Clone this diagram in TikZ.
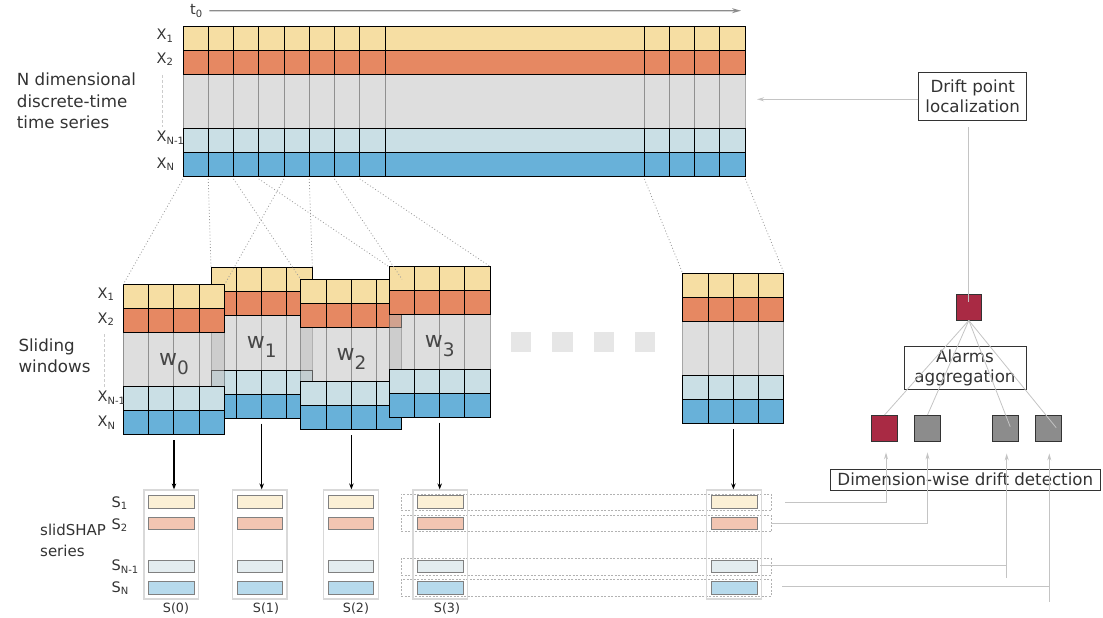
\documentclass[tikz,border=0pt]{standalone}
\usepackage{fontspec}
\setmainfont{DejaVu Sans}
\usetikzlibrary{arrows.meta,calc}

% palette
\definecolor{rowA}{HTML}{F6DEA3}
\definecolor{rowB}{HTML}{E68862}
\definecolor{rowC}{HTML}{CADFE5}
\definecolor{rowD}{HTML}{68B1D9}
\definecolor{midgray}{HTML}{DEDEDE}
\definecolor{winmid}{HTML}{BDBDBD}
\definecolor{shapA}{HTML}{FBF0D6}
\definecolor{shapB}{HTML}{F2C5B2}
\definecolor{shapC}{HTML}{E3ECEF}
\definecolor{shapD}{HTML}{B7DAEC}
\definecolor{alarmred}{HTML}{A92A44}
\definecolor{alarmgray}{HTML}{8C8C8C}
\definecolor{txt}{HTML}{333333}
\definecolor{linkgray}{HTML}{C4C4C4}
\definecolor{dotgray}{HTML}{9A9A9A}
\definecolor{ellgray}{HTML}{E6E6E6}

\tikzset{
  cellline/.style={draw=black, line width=0.9pt},
  midline/.style={draw=black, draw opacity=0.35, line width=0.9pt},
  proj/.style={draw=dotgray, line width=0.8pt, dash pattern=on 0.9pt off 2.2pt},
  winbox/.style={inner sep=0pt, minimum width=101pt, minimum height=150.5pt, draw=none},
  lab/.style={text=txt, inner sep=0pt, font=\fontsize{14.5}{14.5}\selectfont},
  bodytext/.style={text=txt, inner sep=0pt, align=left, anchor=west, font=\fontsize{16.7}{21.3}\selectfont},
  boxtext/.style={text=txt, draw=txt, line width=0.9pt, align=center, font=\fontsize{16.7}{20}\selectfont, inner sep=0pt},
  wlab/.style={text=txt!90, inner sep=0pt, anchor=base},
  down/.style={-{Stealth[length=6pt,width=4.5pt]}, line width=1.1pt, black},
  shapframe/.style={draw=black!15, line width=1.2pt, inner sep=0pt, minimum width=54.7pt, minimum height=109pt},
  shapbar/.style={draw=black!50, line width=0.8pt, inner sep=0pt, minimum width=45.6pt, minimum height=12.4pt},
  rowframe/.style={draw=black!30, dash pattern=on 2pt off 1.5pt, line width=0.7pt, inner sep=0pt, minimum width=370pt, minimum height=16.7pt},
  link/.style={draw=linkgray, line width=1pt},
  linkarrow/.style={link, -{Stealth[length=7pt,width=4pt]}},
  alarmsq/.style={draw=black!80, line width=0.8pt, minimum size=25.6pt, inner sep=0pt},
  ellsq/.style={fill=ellgray, minimum size=20.3pt, inner sep=0pt, anchor=north west},
}

% letter with a lowered index
\newcommand\subl[2]{#1\raisebox{-2.5pt}{\fontsize{10}{10}\selectfont #2}}
% window caption: a large w with a lowered index
\newcommand\wcap[1]{\fontsize{22}{22}\selectfont w\raisebox{-9pt}{\fontsize{18.5}{18.5}\selectfont #1}}

% one sliding window of four time steps, drawn at top-left corner (#2,#3)
\newcommand\slidwin[3]{%
  \begin{scope}[shift={(#2,#3)}]
    \fill[winmid, fill opacity=0.5] (0,48) rectangle (101,102.5);
    \foreach \k in {1,2,3} \draw[midline] (\k*25.25,48) -- (\k*25.25,102.5);
    \draw[midline] (0,48) rectangle (101,102.5);
    \foreach \yy/\rc in {0/rowA,24/rowB,102.5/rowC,126.5/rowD}{
      \fill[\rc] (0,\yy) rectangle (101,\yy+24);
      \foreach \k in {1,2,3} \draw[cellline] (\k*25.25,\yy) -- (\k*25.25,\yy+24);
      \draw[cellline] (0,\yy) rectangle (101,\yy+24);
    }
  \end{scope}
  \node[winbox, anchor=north west] (#1) at (#2,#3) {};
}

\begin{document}
\begin{tikzpicture}[x=1pt,y=-1pt]
\useasboundingbox (0,0) rectangle (1103,618);

% ---------- full multivariate series ----------
\fill[midgray] (183,74) rectangle (745,128.5);
\foreach \xx in {208.25,233.5,258.75,284,309.25,334.5,359.75,385,644,669.25,694.5,719.75}
  \draw[midline] (\xx,74) -- (\xx,128.5);
\draw[midline] (183,74) rectangle (745,128.5);
\foreach \yy/\rc in {26/rowA,50/rowB,128.5/rowC,152.5/rowD}{
  \fill[\rc] (183,\yy) rectangle (745,\yy+24);
  \foreach \xx in {208.25,233.5,258.75,284,309.25,334.5,359.75,385,644,669.25,694.5,719.75}
    \draw[cellline] (\xx,\yy) -- (\xx,\yy+24);
  \draw[cellline] (183,\yy) rectangle (745,\yy+24);
}
\node[inner sep=0pt, minimum width=562pt, minimum height=150.5pt, anchor=north west] (ts) at (183,26) {};
\foreach \k in {0,...,7}
  \coordinate (c\k) at ($(ts.south west)+(\k*25.25,2)$);
\coordinate (cr0) at ($(ts.south east)+(-101,2)$);
\coordinate (cr4) at ($(ts.south east)+(0,2)$);

% time axis
\node[lab, anchor=base west] (t0) at (190,15) {\subl{t}{0}};
\coordinate (tend) at (741,10.7);
\draw[draw=black!45, line width=1.3pt, -{Stealth[length=9pt,width=5pt]}] ($(t0.east)+(7,-0.5)$) -- (tend);

% dimension labels of the series
\node[lab, anchor=base west] (sx1) at (156.5,40) {\subl{X}{1}};
\node[lab, anchor=base west] (sx2) at (156.5,63.3) {\subl{X}{2}};
\node[lab, anchor=base west] (sxn1) at (156.5,141.7) {\subl{X}{N-1}};
\node[lab, anchor=base west] (sxn) at (156.5,168) {\subl{X}{N}};
\draw[draw=black!20, line width=1pt, dash pattern=on 3pt off 2pt] (162.7,75) -- (162.7,127);

\node[bodytext] (title1) at (16.7,101) {N dimensional\\discrete-time\\time series};

% ---------- sliding windows (back to front) ----------
\slidwin{w1}{211}{267.7}
\slidwin{w0}{123.3}{284.3}
\slidwin{w2}{300.7}{279.3}
\slidwin{w3}{389}{266.7}
\slidwin{wR}{682.7}{273.3}

\node[wlab] (w1lab) at ($(w1.north)+(0,81)$) {\wcap{1}};
\node[wlab] (w0lab) at ($(w0.north)+(0,81)$) {\wcap{0}};
\node[wlab] (w2lab) at ($(w2.north)+(0,81)$) {\wcap{2}};
\node[wlab] (w3lab) at ($(w3.north)+(0,81)$) {\wcap{3}};

\node[ellsq] (e1) at (510.7,331.7) {};
\node[ellsq] (e2) at (552,331.7) {};
\node[ellsq] (e3) at (593.3,331.7) {};
\node[ellsq] (e4) at (634.3,331.7) {};

% window dimension labels
\node[lab, anchor=base west] (wx1) at (97.5,298.3) {\subl{X}{1}};
\node[lab, anchor=base west] (wx2) at (97.5,323) {\subl{X}{2}};
\node[lab, anchor=base west] (wxn1) at (97.5,401.7) {\subl{X}{N-1}};
\node[lab, anchor=base west] (wxn) at (97.5,426.5) {\subl{X}{N}};
\draw[draw=black!20, line width=1pt, dash pattern=on 3pt off 2pt] (104,334) -- (104,386.5);

\node[bodytext] (title2) at (18.3,356) {Sliding\\windows};

% projections from the series onto each window
\draw[proj] (c0) -- (w0.north west);
\draw[proj] (c4) -- (w0.north east);
\draw[proj] (c1) -- (w1.north west);
\draw[proj] (c5) -- (w1.north east);
\draw[proj] (c2) -- (w2.north west);
\draw[proj] (c6) -- (w2.north east);
\draw[proj] (c3) -- (w3.north west);
\draw[proj] (c7) -- (w3.north east);
\draw[proj] (cr0) -- (wR.north west);
\draw[proj] (cr4) -- (wR.north east);

% ---------- slidSHAP series ----------
\foreach \r/\ry in {1/502.3,2/523.3,3/566.7,4/587.7}
  \node[rowframe] (rf\r) at (586,\ry) {};

\foreach \k/\fx in {0/171.35,1/259.7,2/350.85,3/440.3,4/734.15}{
  \node[shapframe] (f\k) at (\fx,544.5) {};
  \foreach \r/\by/\bc in {1/502/shapA,2/523.2/shapB,3/566.2/shapC,4/587.9/shapD}
    \node[shapbar, fill=\bc] (b\k\r) at (\fx,\by) {};
}

\foreach \w/\k in {w0/0,w1/1,w2/2,w3/3,wR/4}
  \draw[down] ($(\w.south)+(0,5)$) -- (\w.south |- f\k.north);

\node[lab, anchor=base west] (s1) at (111.5,507.3) {\subl{S}{1}};
\node[lab, anchor=base west] (s2) at (111.5,529) {\subl{S}{2}};
\node[lab, anchor=base west] (sn1) at (111.5,570.7) {\subl{S}{N-1}};
\node[lab, anchor=base west] (sn) at (111.5,592.3) {\subl{S}{N}};

\foreach \k/\lx in {0/176,1/266,2/356,3/447}
  \node[text=txt, inner sep=0pt, anchor=base, font=\fontsize{12.7}{12.7}\selectfont] (sl\k) at (\lx,612.5) {S(\k)};

\node[bodytext, font=\fontsize{15}{21}\selectfont] (title3) at (40,540.5) {slidSHAP\\series};

% ---------- drift detection ----------
\node[alarmsq, fill=alarmred] (alarm) at (968.8,307.2) {};
\node[alarmsq, fill=alarmred] (d1) at (884.5,428.2) {};
\node[alarmsq, fill=alarmgray] (d2) at (927.5,428.2) {};
\node[alarmsq, fill=alarmgray] (d3) at (1005.2,428.2) {};
\node[alarmsq, fill=alarmgray] (d4) at (1048.2,428.2) {};

\node[boxtext, fill=white, minimum width=108pt, minimum height=47.3pt] (drift) at (972.7,96.3) {Drift point\\localization};
\node[boxtext, minimum width=122pt, minimum height=42.3pt] (agg) at (965,367.8) {Alarms\\aggregation};
\node[boxtext, minimum width=269.3pt, minimum height=20.7pt] (dim) at (965.3,479.7) {Dimension-wise drift detection};

% aggregation fan
\draw[link, line width=0.8pt] (alarm.south) -- (d1.north);
\draw[link, line width=0.8pt] (alarm.south) -- (d2.north);
\draw[link, line width=0.8pt] (alarm.south) -- ($(d3.center)+(5,-1.5)$);
\draw[link, line width=0.8pt] (alarm.south) -- ($(d4.center)+(8,-0.5)$);

% localisation feedback
\draw[link, line width=1.2pt] ($(drift.south -| alarm.center)+(0,7)$) -- ($(alarm.center)+(0,-5)$);
\coordinate (tsin) at (757,99.3);
\draw[linkarrow, line width=1.2pt] (drift.west |- tsin) -- (tsin);

% per-dimension alarms
\draw[linkarrow] ($(rf1.east)+(14,0)$) -| ($(d1.south)+(1.5,11)$);
\draw[linkarrow] (rf2.east) -| ($(d2.south)+(0,11)$);
\draw[link] ($(rf3.east)+(-11,-1.7)$) -- ($(rf3.east -| d3.south)+(1.5,-1.7)$);
\draw[linkarrow] ($(rf3.east -| d3.south)+(1.5,11.3)$) -- ($(d3.south)+(1.5,12)$);
\draw[link] ($(rf4.east)+(11,-1.7)$) -- ($(rf4.east -| d4.south)+(1.1,-1.7)$);
\draw[linkarrow] ($(rf4.east -| d4.south)+(1.1,14)$) -- ($(d4.south)+(1.1,12)$);

\end{tikzpicture}
\end{document}
